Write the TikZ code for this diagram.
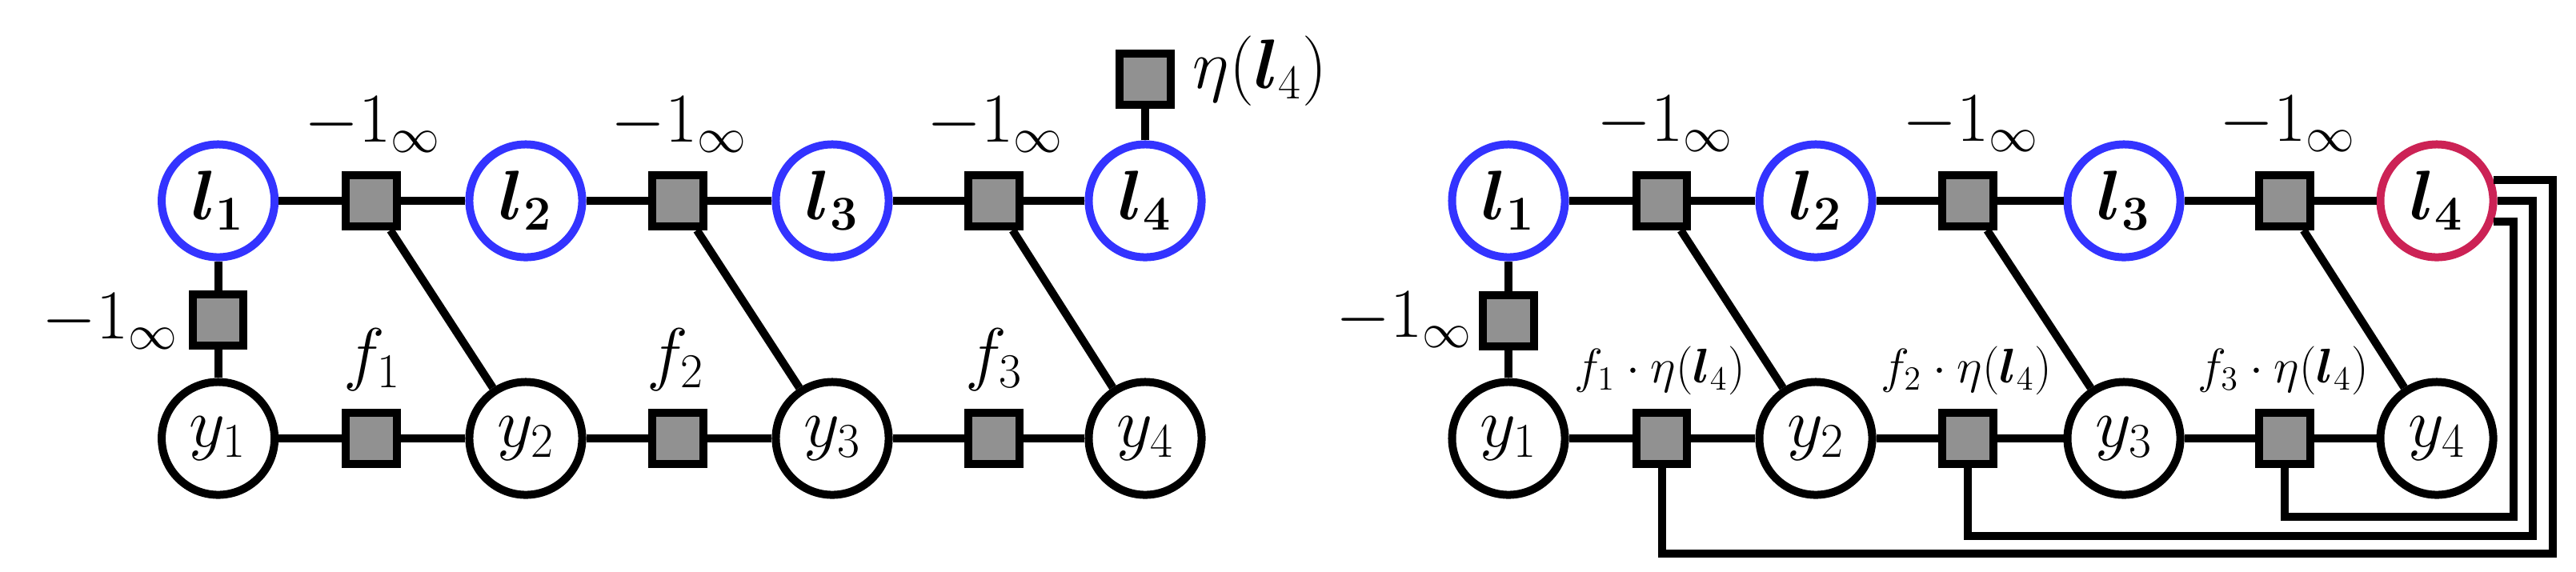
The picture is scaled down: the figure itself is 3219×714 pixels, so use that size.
\documentclass[tikz,border=0pt]{standalone}
\usepackage{amsmath,bm}
\definecolor{lblue}{RGB}{51,51,255}
\definecolor{lred}{RGB}{204,34,85}
\definecolor{sqgray}{RGB}{145,145,145}
\begin{document}
\begin{tikzpicture}[x=0.01cm,y=-0.01cm,
  every node/.style={font=\fontsize{26}{31}\selectfont},
  var/.style={circle,draw,line width=0.1cm,minimum size=1.41cm,inner sep=0pt,fill=white},
  lat/.style={var,draw=lblue},
  latr/.style={var,draw=lred},
  fac/.style={rectangle,draw,line width=0.1cm,fill=sqgray,minimum size=0.635cm,inner sep=0pt},
  lbl/.style={inner sep=0pt,anchor=base},
  smalllbl/.style={lbl,font=\fontsize{18}{22}\selectfont},
  edge/.style={line width=0.1cm}]
\useasboundingbox (0,0) rectangle (3219,714);

% ---------------- left panel ----------------
\node[lat] (a1) at (272.6,251) {$\bm{l_1}$};
\node[lat] (a2) at (657,251) {$\bm{l_2}$};
\node[lat] (a3) at (1040,251) {$\bm{l_3}$};
\node[lat] (a4) at (1431,251) {$\bm{l_4}$};
\node[var] (b1) at (272.6,548) {$y_1$};
\node[var] (b2) at (657,548) {$y_2$};
\node[var] (b3) at (1040,548) {$y_3$};
\node[var] (b4) at (1431,548) {$y_4$};
\node[fac] (as1) at (464,251) {};
\node[fac] (as2) at (847,251) {};
\node[fac] (as3) at (1242,251) {};
\node[fac] (bs1) at (464,548) {};
\node[fac] (bs2) at (847,548) {};
\node[fac] (bs3) at (1242,548) {};
\node[fac] (av) at (272.6,400) {};
\node[fac] (aeta) at (1431,99) {};

\draw[edge] (a1) -- (as1) -- (a2) -- (as2) -- (a3) -- (as3) -- (a4);
\draw[edge] (b1) -- (bs1) -- (b2) -- (bs2) -- (b3) -- (bs3) -- (b4);
\draw[edge] (a1) -- (av) -- (b1);
\draw[edge] (as1) -- (b2);
\draw[edge] (as2) -- (b3);
\draw[edge] (as3) -- (b4);
\draw[edge] (a4) -- (aeta);

\node[lbl] (lab1) at (466,177.6) {$-1_\infty$};
\node[lbl] (lab2) at (849,177.6) {$-1_\infty$};
\node[lbl] (lab3) at (1244,177.6) {$-1_\infty$};
\node[lbl,anchor=base east] (labv) at (224,423.5) {$-1_\infty$};
\node[lbl] (labf1) at (465,471) {$f_1$};
\node[lbl] (labf2) at (844,471) {$f_2$};
\node[lbl] (labf3) at (1242,471) {$f_3$};
\node[lbl,anchor=base west] (labeta) at (1490,110) {$\eta(\bm{l}_4)$};

% ---------------- right panel ----------------
\node[lat] (c1) at (1885,251) {$\bm{l_1}$};
\node[lat] (c2) at (2269,251) {$\bm{l_2}$};
\node[lat] (c3) at (2654,251) {$\bm{l_3}$};
\node[latr] (c4) at (3045,251) {$\bm{l_4}$};
\node[var] (d1) at (1885,548) {$y_1$};
\node[var] (d2) at (2269,548) {$y_2$};
\node[var] (d3) at (2654,548) {$y_3$};
\node[var] (d4) at (3045,548) {$y_4$};
\node[fac] (cs1) at (2076.5,251) {};
\node[fac] (cs2) at (2459,251) {};
\node[fac] (cs3) at (2855,251) {};
\node[fac] (ds1) at (2076.5,548) {};
\node[fac] (ds2) at (2459,548) {};
\node[fac] (ds3) at (2855,548) {};
\node[fac] (cv) at (1885,401) {};

\draw[edge] (c1) -- (cs1) -- (c2) -- (cs2) -- (c3) -- (cs3) -- (c4);
\draw[edge] (d1) -- (ds1) -- (d2) -- (ds2) -- (d3) -- (ds3) -- (d4);
\draw[edge] (c1) -- (cv) -- (d1);
\draw[edge] (cs1) -- (d2);
\draw[edge] (cs2) -- (d3);
\draw[edge] (cs3) -- (d4);

\coordinate (w3) at (3140.5,646);
\coordinate (w2) at (3165,669.5);
\coordinate (w1) at (3190,692);
\draw[edge] (ds3.south) |- (w3) |- (c4.-20);
\draw[edge] (ds2.south) |- (w2) |- (c4.0);
\draw[edge] (ds1.south) |- (w1) |- (c4.20);

\node[lbl] (rlab1) at (2081,176.7) {$-1_\infty$};
\node[lbl] (rlab2) at (2463,176.7) {$-1_\infty$};
\node[lbl] (rlab3) at (2859,176.7) {$-1_\infty$};
\node[lbl,anchor=base east] (rlabv) at (1840.5,421) {$-1_\infty$};
\node[smalllbl] (rlabf1) at (2074,478) {$f_1\cdot\eta(\bm{l}_4)$};
\node[smalllbl] (rlabf2) at (2457,478) {$f_2\cdot\eta(\bm{l}_4)$};
\node[smalllbl] (rlabf3) at (2853,478) {$f_3\cdot\eta(\bm{l}_4)$};
\end{tikzpicture}
\end{document}
